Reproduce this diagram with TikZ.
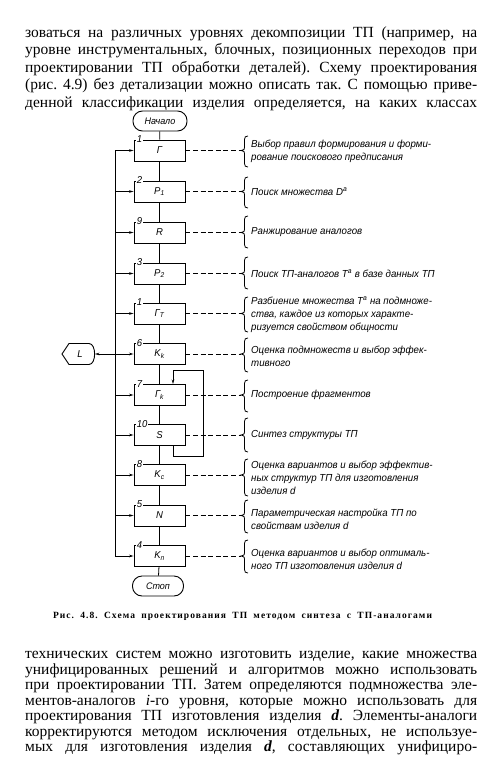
\documentclass[tikz,border=0pt]{standalone}
\usepackage{fontspec}
\setmainfont{Liberation Serif}
\newfontfamily\gost[FakeStretch=0.95]{Liberation Sans}
\newfontfamily\capfont[LetterSpace=11]{Liberation Serif}
\usetikzlibrary{arrows.meta,calc}
\frenchspacing
\newcommand\mybr[3]{%
  \draw[ln] (248,#1) .. controls (245.5,#1) and (244.5,#1+1) .. (244.5,#1+3.5)
    -- (244.5,#2-3) .. controls (244.5,#2-1) .. (241,#2)
    .. controls (244.5,#2+1) .. (244.5,#2+3)
    -- (244.5,#3-3.5) .. controls (244.5,#3-1) and (245.5,#3) .. (248,#3);}
\tikzset{
  ln/.style={line width=0.8pt},
  box/.style={draw, line width=0.9pt, minimum width=51pt, minimum height=21pt, inner sep=0pt, font=\gost\itshape\fontsize{10}{12}\selectfont},
  term/.style={draw, line width=0.9pt, rounded corners=9.5pt, minimum height=20pt, inner sep=0pt, font=\gost\itshape\fontsize{9.5}{12}\selectfont},
  num/.style={fill=white, inner sep=0.6pt, anchor=south west, font=\gost\itshape\fontsize{10}{12}\selectfont},
  arr/.style={ln, -{Stealth[length=4.5pt,width=2.6pt]}},
  dashl/.style={line width=0.8pt, dash pattern=on 5pt off 2.6pt},
  desc/.style={anchor=west, align=left, inner sep=0pt, font=\gost\itshape\fontsize{10.2}{13.2}\selectfont},
  body/.style={anchor=base west, inner sep=0pt, font=\fontsize{15.5}{17}\selectfont},
}
\begin{document}
\begin{tikzpicture}[x=1pt,y=-1pt]
\useasboundingbox[fill=white] (0,0) rectangle (485,759);
% body text top
\node[body] (p1) at (25,37.5) {\makebox[452pt][s]{зоваться на различных уровнях декомпозиции ТП (например, на}};
\node[body] (p2) at (25,55) {\makebox[452pt][s]{уровне инструментальных, блочных, позиционных переходов при}};
\node[body] (p3) at (25,72.5) {\makebox[452pt][s]{проектировании ТП обработки деталей). Схему проектирования}};
\node[body] (p4) at (25,90) {\makebox[452pt][s]{(рис. 4.9) без детализации можно описать так. С помощью приве-}};
\node[body] (p5) at (25,107.5) {\makebox[452pt][s]{денной классификации изделия определяется, на каких классах}};
% terminals
\node[term, minimum width=54pt] (start) at (160,121) {Начало};
\node[term, minimum width=51pt] (stop) at (158,586) {Стоп};
% boxes
\node[box] (b1) at (159.5,150.5) {Г};
\node[box] (b2) at (159.5,191.5) {P\textsubscript{1}};
\node[box] (b3) at (159.5,232.5) {R};
\node[box] (b4) at (159.5,273.5) {P\textsubscript{2}};
\node[box] (b5) at (159.5,313.5) {Г\textsubscript{Т}};
\node[box] (b6) at (159.5,354) {K\textsubscript{k}};
\node[box] (b7) at (159.5,395) {Г\textsubscript{k}};
\node[box] (b8) at (159.5,435) {S};
\node[box] (b9) at (159.5,475) {K\textsubscript{c}};
\node[box] (b10) at (159.5,515.5) {N};
\node[box] (b11) at (159.5,556) {K\textsubscript{п}};
% numbers
\foreach \b/\n in {b1/1,b2/2,b3/9,b4/3,b5/1,b6/6,b7/7,b8/10,b9/8,b10/5,b11/4}
  \node[num] (n\b) at ([xshift=2.5pt,yshift=-4pt]\b.north west) {\n};
% main flow
\draw[ln] (start) -- (b1);
\foreach \a/\c in {b1/b2,b2/b3,b3/b4,b4/b5,b5/b6,b6/b7,b7/b8,b8/b9,b9/b10,b10/b11}
  \draw[ln] (\a) -- (\c);
\draw[ln] (b11) -- (stop);
% bus
\coordinate (bt) at (115,150.5);
\coordinate (bb) at (115,556);
\draw[ln] (bt) -- (bb);
\foreach \i in {1,...,11}
  \draw[arr] (b\i.west -| bt) -- (b\i.west);
% L node
\node[inner sep=0pt, font=\gost\itshape\fontsize{10}{12}\selectfont] (L) at (80,354) {L};
\draw[line width=0.9pt] (62,354) -- (69,343.5) -- (89,343.5) .. controls (96.5,343.5) and (96.5,364.5) .. (89,364.5) -- (69,364.5) -- cycle;
\coordinate (Le) at (95,354);
\draw[arr] (b6.west -| bt) -- (Le);
% loop S -> Gk
\coordinate (lp1) at (203,456);
\coordinate (lp2) at (203,370);
\draw[arr] ([xshift=13.5pt]b8.south) |- (lp1) -- (lp2) -| ([xshift=13.5pt]b7.north);
% dashed connectors and braces
\foreach \i/\t/\m/\bo in {1/136/150.5/167, 2/177/191.5/208, 3/216/232.5/248, 4/257/273.5/289, 5/297/313.5/332, 6/338/354/372, 7/380/395/412, 8/418/435/452, 9/459/475/496, 10/500/515.5/533, 11/540/556/573}{
  \coordinate (br\i) at (241,\m);
  \draw[dashl] (b\i.east) -- (br\i);
  \mybr{\t}{\m}{\bo}
}
% descriptions
\node[desc] (d1) at (251,151) {Выбор правил формирования и форми-\\рование поискового предписания};
\node[desc] (d2) at (251,191.5) {Поиск множества D\textsuperscript{a}};
\node[desc] (d3) at (251,232.5) {Ранжирование аналогов};
\node[desc] (d4) at (251,273.5) {Поиск ТП-аналогов T\textsuperscript{a} в базе данных ТП};
\node[desc] (d5) at (251,315) {Разбиение множества T\textsuperscript{a} на подмноже-\\ства, каждое из которых характе-\\ризуется свойством общности};
\node[desc] (d6) at (251,356.5) {Оценка подмножеств и выбор эффек-\\тивного};
\node[desc] (d7) at (251,395) {Построение фрагментов};
\node[desc] (d8) at (251,435) {Синтез структуры ТП};
\node[desc] (d9) at (251,478) {Оценка вариантов и выбор эффектив-\\ных структур ТП для изготовления\\изделия d};
\node[desc] (d10) at (251,519) {Параметрическая настройка ТП по\\свойствам изделия d};
\node[desc] (d11) at (251,559) {Оценка вариантов и выбор оптималь-\\ного ТП изготовления изделия d};
% caption
\node[inner sep=0pt, font=\capfont\bfseries\fontsize{9.5}{10}\selectfont] (cap) at (242.5,616) {\makebox[379pt][s]{Рис. 4.8. Схема проектирования ТП методом синтеза с ТП-аналогами}};
% body text bottom
\node[body] (q1) at (25,658.5) {\makebox[452pt][s]{технических систем можно изготовить изделие, какие множества}};
\node[body] (q2) at (25,674) {\makebox[452pt][s]{унифицированных решений и алгоритмов можно использовать}};
\node[body] (q3) at (25,689.5) {\makebox[452pt][s]{при проектировании ТП. Затем определяются подмножества эле-}};
\node[body] (q4) at (25,705) {\makebox[452pt][s]{ментов-аналогов \textit{i}-го уровня, которые можно использовать для}};
\node[body] (q5) at (25,720.5) {\makebox[452pt][s]{проектирования ТП изготовления изделия \textbf{\textit{d}}. Элементы-аналоги}};
\node[body] (q6) at (25,736) {\makebox[452pt][s]{корректируются методом исключения отдельных, не используе-}};
\node[body] (q7) at (25,751.5) {\makebox[452pt][s]{мых для изготовления изделия \textbf{\textit{d}}, составляющих унифициро-}};
\end{tikzpicture}
\end{document}
